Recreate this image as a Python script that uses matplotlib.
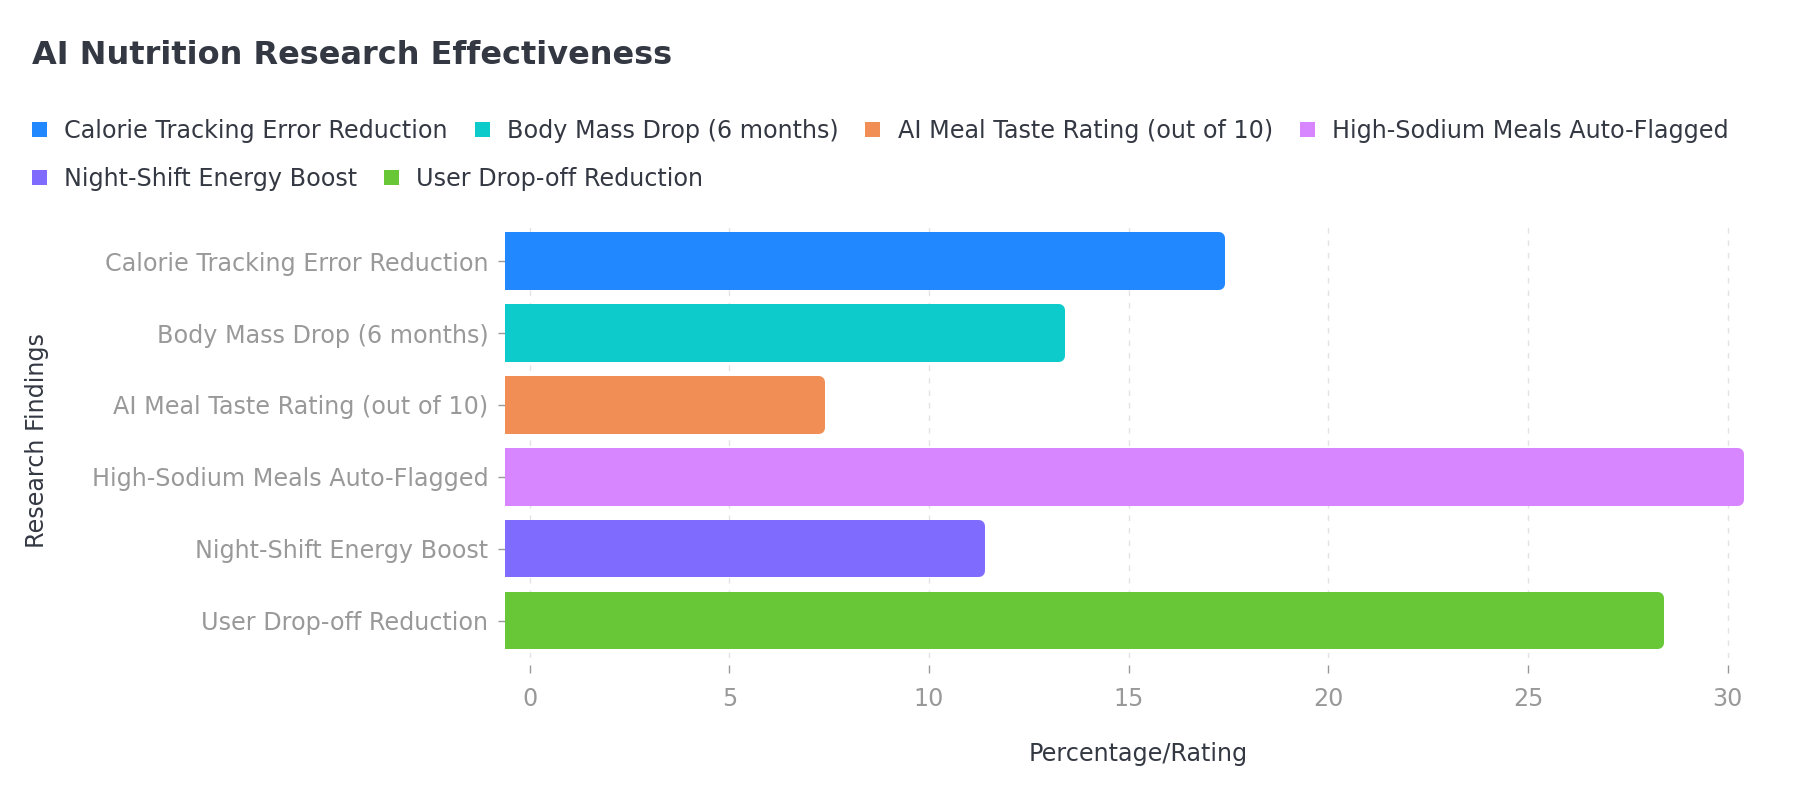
import matplotlib
matplotlib.use("Agg")
import matplotlib.pyplot as plt
from matplotlib.patches import Patch
import numpy as np

plt.rcParams['font.family'] = ['DejaVu Sans']

# ---- data ----
categories = [
    "Calorie Tracking Error Reduction",
    "Body Mass Drop (6 months)",
    "AI Meal Taste Rating (out of 10)",
    "High-Sodium Meals Auto-Flagged",
    "Night-Shift Energy Boost",
    "User Drop-off Reduction",
]
values = [17.4, 13.4, 7.4, 30.4, 11.4, 28.4]
colors = ["#2288FF", "#0DCBCB", "#F08E56", "#D886FF", "#7F6CFF", "#68C737"]
x_ticks = [0, 5, 10, 15, 20, 25, 30]
title = "AI Nutrition Research Effectiveness"
x_label = "Percentage/Rating"
y_label = "Research Findings"

# ---- style ----
W, H, DPI = 1800, 800, 100
TXT_DARK = "#333842"
TXT_GRAY = "#999999"
FS = 17.2

fig = plt.figure(figsize=(W / DPI, H / DPI), dpi=DPI)
fig.patch.set_facecolor("white")

ax_left, ax_right = 505 / W, 1746 / W
ax_top, ax_bottom = 1 - 222 / H, 1 - 658 / H
ax = fig.add_axes([ax_left, ax_bottom, ax_right - ax_left, ax_top - ax_bottom])

x_lo, x_hi = -0.62, 30.46
ax.set_xlim(x_lo, x_hi)
n = len(categories)
ypos = np.arange(n)
ax.set_ylim(n - 1 + 0.52, -0.545)

# rounded right corners via round-joined edge, left side clipped by axes
r_px = 6
inv = ax.transData.inverted()
p0 = inv.transform((0, 0))
p1 = inv.transform((r_px, r_px))
rx = abs(p1[0] - p0[0])
ry = abs(p1[1] - p0[1])
lw_pt = 2 * r_px * 72 / DPI
bar_h = 0.8
vals = np.array(values)
ax.barh(ypos, vals - rx - x_lo, left=x_lo, height=bar_h - 2 * ry,
        color=colors, edgecolor=colors, linewidth=lw_pt, joinstyle="round",
        zorder=3)

# axes styling
for s in ax.spines.values():
    s.set_visible(False)
ax.spines["bottom"].set_position(("outward", 5))
ax.set_xticks(x_ticks)
ax.set_xticklabels([str(t) for t in x_ticks])
ax.set_yticks(ypos)
ax.set_yticklabels(categories)
ax.tick_params(axis="y", colors=TXT_GRAY, labelcolor=TXT_GRAY, labelsize=FS,
               length=5, width=1, pad=7, direction="out")
ax.tick_params(axis="x", colors=TXT_GRAY, labelcolor=TXT_GRAY, labelsize=FS,
               length=6, width=1, pad=10, direction="out")
ax.xaxis.grid(True, color="#E3E3E3", linewidth=1, linestyle=(0, (4, 5)), zorder=0)
ax.yaxis.grid(False)
ax.set_axisbelow(True)

# title
fig.text(32 / W, 1 - 55 / H, title, fontsize=23, fontweight="bold",
         color=TXT_DARK, ha="left", va="center")

# axis labels
fig.text(1138 / W, 1 - 754 / H, x_label, fontsize=FS, color=TXT_DARK,
         ha="center", va="center")
fig.text(37 / W, 1 - 441 / H, y_label, fontsize=FS, color=TXT_DARK,
         ha="center", va="center", rotation=90)

# legend (flowing rows)
handles = [Patch(facecolor=c, edgecolor="none") for c in colors]
common = dict(frameon=False, fontsize=FS, labelcolor=TXT_DARK,
              handlelength=0.63, handleheight=0.63, handletextpad=0.72,
              columnspacing=1.12, borderpad=0, borderaxespad=0, loc="center left")
leg1 = fig.legend(handles[:4], categories[:4], ncol=4,
                  bbox_to_anchor=(32 / W, 1 - 131 / H), **common)
leg2 = fig.legend(handles[4:], categories[4:], ncol=2,
                  bbox_to_anchor=(32 / W, 1 - 179 / H), **common)

fig.savefig("out.png", dpi=DPI, facecolor="white")
